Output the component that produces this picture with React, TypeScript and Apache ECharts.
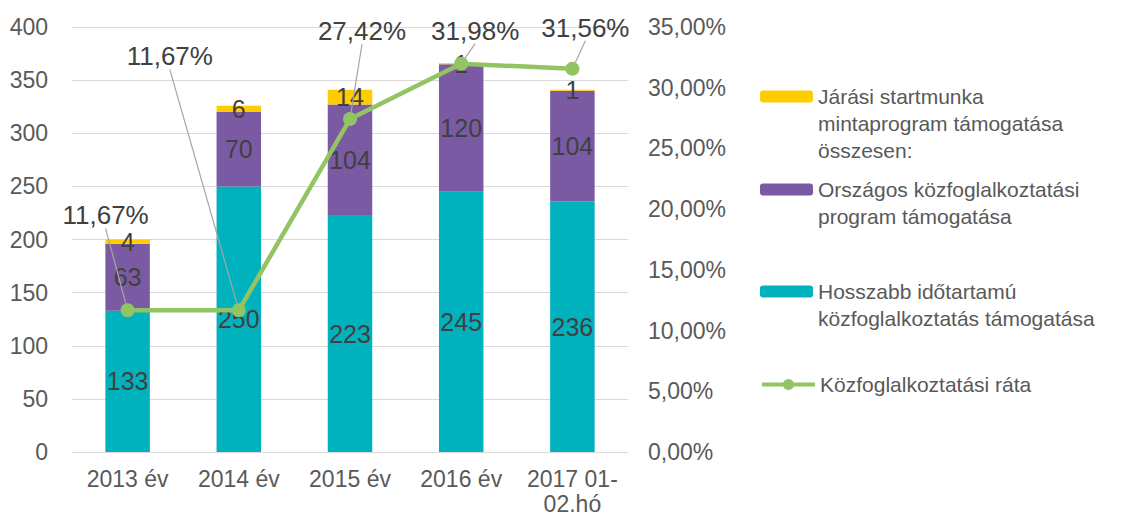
import React, { useEffect, useRef } from "react";
import * as echarts from "echarts";

const categories = ["2013 év", "2014 év", "2015 év", "2016 év", "2017 01-02.hó"];
const seriesNames = [
  "Járási startmunka mintaprogram támogatása összesen:",
  "Országos közfoglalkoztatási program támogatása",
  "Hosszabb időtartamú közfoglalkoztatás támogatása",
  "Közfoglalkoztatási ráta",
];
const legendLabels = [
  "Járási startmunka\nmintaprogram támogatása\nösszesen:",
  "Országos közfoglalkoztatási\nprogram támogatása",
  "Hosszabb időtartamú\nközfoglalkoztatás támogatása",
  "Közfoglalkoztatási ráta",
];
const hosszabb = [133, 250, 223, 245, 236];
const orszagos = [63, 70, 104, 120, 104];
const jarasi = [4, 6, 14, 1, 1];
const rata = [0.1167, 0.1167, 0.2742, 0.3198, 0.3156];

const leftTicks = { min: 0, max: 400, interval: 50 };
const rightTicks = { min: 0, max: 0.35, interval: 0.05 };

// label offsets (px) for the rate labels, relative to default 'top' position
const rateLabelOffsets = [
  [-22, -74],
  [-69, -233],
  [12, -67],
  [14, -12],
  [13, -20],
];

const TEXT = "#404040";
const AXIS_TEXT = "#595959";
const FONT = "Liberation Sans, Arial, sans-serif";

export default function App() {
  const ref = useRef<HTMLDivElement>(null);
  useEffect(() => {
    if (!ref.current) return;
    const chart = echarts.init(ref.current, undefined, { renderer: "svg" });
    const fmtPct = (v: number) => (v * 100).toFixed(2).replace(".", ",") + "%";
    const barLabel = {
      show: true,
      position: "inside",
      color: TEXT,
      fontSize: 25,
      lineHeight: 18,
      fontFamily: FONT,
    };
    const legendTops = [24, 144, 246, 366];
    const colors = ["#FFCC00", "#7A5BA3", "#00B2BD", "#93C464"];
    const legends = seriesNames.map((n, i) => {
      const lines = legendLabels[i].split("\n").length;
      const pre = "\n".repeat(lines - 1);
      return {
        show: true,
        orient: "vertical",
        left: 755,
        top: legendTops[i],
        data: [n],
        itemWidth: 53,
        itemHeight: i === 3 ? 14 : 12,
        itemGap: 0,
        selectedMode: false,
        lineStyle: { width: 4 },
        formatter: () => pre + legendLabels[i],
        textStyle: {
          color: AXIS_TEXT,
          fontSize: 21,
          lineHeight: 27,
          fontFamily: FONT,
        },
      };
    });
    chart.setOption({
      animation: false,
      textStyle: { fontFamily: FONT },
      legend: legends,
      grid: {
        left: 72,
        right: 506,
        top: 27,
        bottom: 66,
        containLabel: false,
        outerBoundsMode: "none",
      },
      xAxis: {
        type: "category",
        data: categories,
        axisLine: { lineStyle: { color: "#D9D9D9", width: 1 } },
        axisTick: { show: false },
        axisLabel: {
          color: AXIS_TEXT,
          fontSize: 23,
          fontFamily: FONT,
          margin: 14,
          lineHeight: 25,
          interval: 0,
          formatter: (v: string) => v.replace("01-", "01-\n"),
        },
      },
      yAxis: [
        {
          type: "value",
          ...leftTicks,
          axisLine: { show: false },
          axisTick: { show: false },
          splitLine: { lineStyle: { color: "#D9D9D9", width: 1 } },
          axisLabel: { color: AXIS_TEXT, fontSize: 23, fontFamily: FONT, margin: 24 },
        },
        {
          type: "value",
          ...rightTicks,
          position: "right",
          axisLine: { show: false },
          axisTick: { show: false },
          splitLine: { show: false },
          axisLabel: {
            color: AXIS_TEXT,
            fontSize: 23,
            fontFamily: FONT,
            margin: 20,
            formatter: (v: number) => fmtPct(v),
          },
        },
      ],
      series: [
        {
          name: seriesNames[2],
          type: "bar",
          stack: "s",
          data: hosszabb,
          barWidth: "40%",
          itemStyle: { color: colors[2] },
          label: barLabel,
        },
        {
          name: seriesNames[1],
          type: "bar",
          stack: "s",
          data: orszagos,
          itemStyle: { color: colors[1] },
          label: barLabel,
        },
        {
          name: seriesNames[0],
          type: "bar",
          stack: "s",
          data: jarasi,
          itemStyle: { color: colors[0] },
          label: barLabel,
        },
        {
          name: seriesNames[3],
          type: "line",
          yAxisIndex: 1,
          data: rata,
          z: 5,
          color: colors[3],
          lineStyle: { color: colors[3], width: 4.5 },
          itemStyle: { color: colors[3] },
          symbol: "circle",
          symbolSize: 14,
          label: {
            show: true,
            position: "top",
            distance: 5,
            color: TEXT,
            fontSize: 26,
            lineHeight: 18,
            fontFamily: FONT,
            formatter: (p: any) => fmtPct(p.value),
          },
          labelLine: { show: true, lineStyle: { color: "#A6A6A6", width: 1.2 } },
          labelLayout: (p: any) => {
            const o = rateLabelOffsets[p.dataIndex] || [0, 0];
            return { dx: o[0], dy: o[1] };
          },
        },
      ],
    });
    return () => chart.dispose();
  }, []);
  return <div ref={ref} style={{ width: 1134, height: 518, position: "absolute", left: 0, top: 0, background: "#fff" }} />;
}
